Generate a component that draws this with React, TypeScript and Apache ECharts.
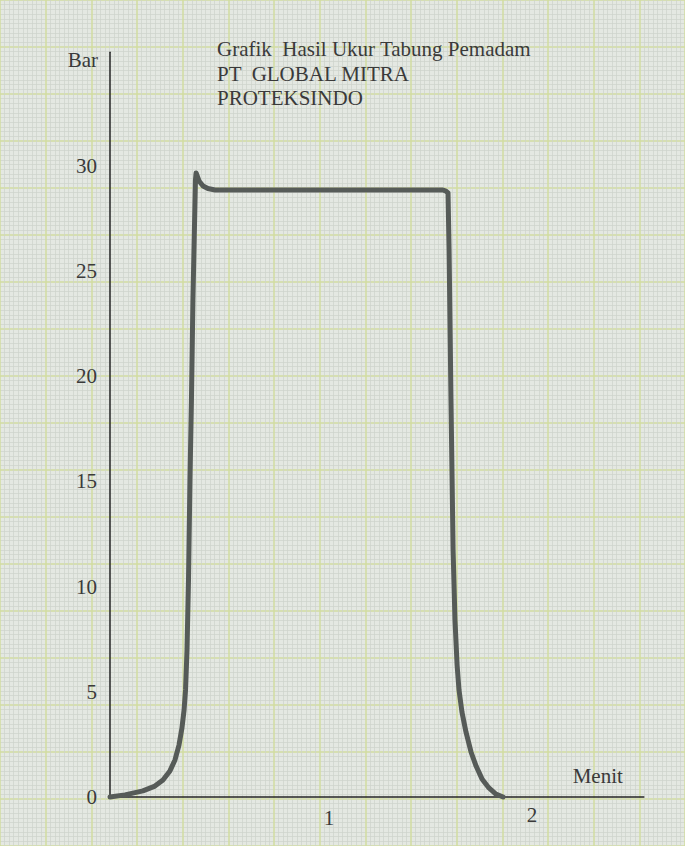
import React, { useEffect, useRef } from "react";
import * as echarts from "echarts";

// ---- data ----
const titleLines = ["Grafik  Hasil Ukur Tabung Pemadam", "PT  GLOBAL MITRA", "PROTEKSINDO"];
const yAxisName = "Bar";
const xAxisName = "Menit";
const xTickValues = [1, 2];
const yTickValues = [0, 5, 10, 15, 20, 25, 30];
const timeMin = [
  0, 0.071, 0.156, 0.213, 0.251, 0.284, 0.308, 0.327, 0.341, 0.351, 0.358, 0.365, 0.372,
  0.379, 0.386, 0.393, 0.403, 0.405, 0.408, 0.422, 0.441, 0.464, 0.498, 1.578, 1.592,
  1.602, 1.607, 1.616, 1.626, 1.635, 1.645, 1.654, 1.668, 1.687, 1.711, 1.735, 1.763,
  1.796, 1.829, 1.863,
];
const pressureBar = [
  0, 0.1, 0.29, 0.52, 0.81, 1.24, 1.76, 2.47, 3.28, 4.13, 5.09, 6.99, 10.31,
  15.07, 18.87, 23.62, 28.37, 29.33, 29.66, 29.28, 29.04, 28.92, 28.85, 28.85, 28.8,
  28.71, 26.0, 18.87, 11.74, 8.41, 6.27, 5.09, 4.04, 3.09, 2.14, 1.47, 0.86,
  0.43, 0.14, 0,
];

// ---- layout ----
const W = 685;
const H = 846;
const ORIGIN_X = 110;
const ORIGIN_Y = 797;
const PX_PER_MIN = 211;
const PX_PER_BAR = 21.04;
const X_MAX = 2.53;
const Y_MAX = 35.4;
const MAJOR = 52.6;
const FONT = "'Liberation Serif', 'DejaVu Serif', serif";
const FS = 21;
const TEXT = "#3a3a3a";

export default function App() {
  const ref = useRef<HTMLDivElement>(null);
  useEffect(() => {
    document.body.style.margin = "0";
    const chart = echarts.init(ref.current!, null, { renderer: "svg" });
    const bgLeft = ORIGIN_X - 3 * MAJOR;
    const bgTop = ORIGIN_Y - 16 * MAJOR;
    chart.setOption({
      animation: false,
      backgroundColor: "#e4e8e2",
      title: {
        text: titleLines.join("\n"),
        left: 217,
        top: 37,
        padding: 0,
        textStyle: {
          fontFamily: FONT,
          fontSize: FS,
          fontWeight: "normal",
          color: TEXT,
          lineHeight: 24.5,
        },
      },
      grid: [
        {
          left: ORIGIN_X,
          top: ORIGIN_Y - Y_MAX * PX_PER_BAR,
          width: X_MAX * PX_PER_MIN,
          height: Y_MAX * PX_PER_BAR,
          z: 3,
        },
        {
          left: bgLeft,
          top: bgTop,
          width: 15 * MAJOR,
          height: 18 * MAJOR,
          z: 0,
        },
      ],
      xAxis: [
        {
          type: "value",
          gridIndex: 0,
          min: 0,
          max: X_MAX,
          interval: 1,
          name: xAxisName,
          nameLocation: "end",
          nameGap: -21,
          nameTextStyle: {
            fontFamily: FONT,
            fontSize: FS,
            color: TEXT,
            align: "right",
            verticalAlign: "bottom",
            padding: [0, 0, 11, 0],
          },
          axisLine: { show: true, lineStyle: { color: "#262626", width: 1.5 } },
          axisTick: { show: false },
          splitLine: { show: false },
          axisLabel: {
            fontFamily: FONT,
            fontSize: FS,
            color: TEXT,
            margin: 7,
            showMaxLabel: false,
            formatter: (v: number) =>
              xTickValues.includes(v) ? (v === 1 ? "{a|" + v + "}" : String(v)) : "",
            rich: { a: { padding: [3, 0, 0, 16], fontFamily: FONT, fontSize: FS, color: TEXT } },
          },
        },
        {
          type: "value",
          gridIndex: 1,
          min: 0,
          max: 150,
          interval: 10,
          axisLine: { show: false },
          axisTick: { show: false },
          axisLabel: { show: false },
          minorTick: { show: false, splitNumber: 10 },
          splitLine: { show: true, lineStyle: { color: "#d2dca0", width: 1.5 } },
          minorSplitLine: { show: true, lineStyle: { color: "#cdd3cb", width: 0.7 } },
        },
      ],
      yAxis: [
        {
          type: "value",
          gridIndex: 0,
          min: 0,
          max: Y_MAX,
          interval: 5,
          name: yAxisName,
          nameLocation: "end",
          nameGap: -8,
          nameTextStyle: {
            fontFamily: FONT,
            fontSize: FS,
            color: TEXT,
            align: "right",
            verticalAlign: "middle",
            padding: [0, 12, 0, 0],
          },
          axisLine: { show: true, lineStyle: { color: "#262626", width: 1.5 } },
          axisTick: { show: false },
          splitLine: { show: false },
          axisLabel: {
            fontFamily: FONT,
            fontSize: FS,
            color: TEXT,
            margin: 13,
            formatter: (v: number) => (yTickValues.includes(v) ? String(v) : ""),
          },
        },
        {
          type: "value",
          gridIndex: 1,
          min: 0,
          max: 180,
          interval: 10,
          axisLine: { show: false },
          axisTick: { show: false },
          axisLabel: { show: false },
          minorTick: { show: false, splitNumber: 10 },
          splitLine: { show: true, lineStyle: { color: "#d2dca0", width: 1.5 } },
          minorSplitLine: { show: true, lineStyle: { color: "#cdd3cb", width: 0.7 } },
        },
      ],
      series: [
        {
          type: "line",
          xAxisIndex: 0,
          yAxisIndex: 0,
          data: timeMin.map((t, i) => [t, pressureBar[i]]),
          showSymbol: false,
          smooth: false,
          clip: false,
          silent: true,
          z: 5,
          lineStyle: { color: "#565b58", width: 5, cap: "round", join: "round" },
        },
      ],
    });
    return () => chart.dispose();
  }, []);
  return <div ref={ref} style={{ width: W, height: H }} />;
}
